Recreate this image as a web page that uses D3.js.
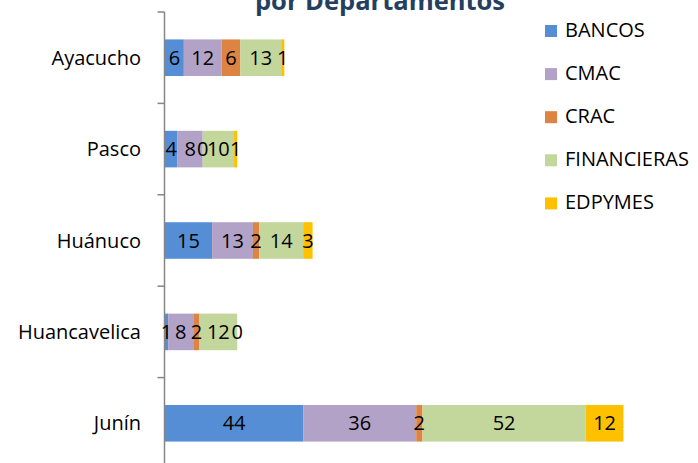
<!DOCTYPE html>
<html><head><meta charset="utf-8">
<script src="https://cdn.jsdelivr.net/npm/d3@7"></script>
<style>body{margin:0;background:#fff}svg{display:block}</style>
</head><body>
<script>
const categories = ["Ayacucho","Pasco","Huánuco","Huancavelica","Junín"];
const seriesNames = ["BANCOS","CMAC","CRAC","FINANCIERAS","EDPYMES"];
const bancos = [6,4,15,1,44];
const cmac = [12,8,13,8,36];
const crac = [6,0,2,2,2];
const financieras = [13,10,14,12,52];
const edpymes = [1,1,3,0,12];
const colors = ["#558ED5","#B3A2C7","#DD8442","#C3D69B","#FFC000"];
const title = "por Departamentos";

const W=698,H=463;
const font = "'Open Sans', sans-serif";
const fs = 20;
const svg = d3.select("body").append("svg").attr("width",W).attr("height",H);

const seriesVals=[bancos,cmac,crac,financieras,edpymes];
const rows = categories.map((c,i)=>{const r={cat:c}; seriesNames.forEach((s,j)=>r[s]=seriesVals[j][i]); return r;});
const stacked = d3.stack().keys(seriesNames)(rows);

const x0=165;
const x = d3.scaleLinear().domain([0,146]).range([x0,x0+146*3.14]);
const y = d3.scaleBand().domain(categories).range([12,469]).paddingInner(0.6).paddingOuter(0.3);

const ax = svg.append("g").attr("transform",`translate(${x0-0.5},0)`);
ax.append("line").attr("x1",0).attr("x2",0).attr("y1",12).attr("y2",469).attr("stroke","#868686").attr("stroke-width",1.5);
const tickYs = d3.range(categories.length+1).map(i=>12+i*(469-12)/categories.length);
ax.selectAll("line.t").data(tickYs).join("line").attr("class","t")
  .attr("x1",-7).attr("x2",0).attr("y1",d=>d).attr("y2",d=>d).attr("stroke","#868686").attr("stroke-width",1.5);
svg.append("g").selectAll("text").data(categories).join("text")
  .attr("x",141).attr("y",d=>y(d)+y.bandwidth()/2).attr("dy","0.35em")
  .attr("text-anchor","end").attr("font-family",font).attr("font-size",fs).attr("fill","#000").text(d=>d);

const g = svg.append("g");
stacked.forEach((s,j)=>{
  g.selectAll(null).data(s).join("rect")
   .attr("x",d=>x(d[0])).attr("width",d=>x(d[1])-x(d[0]))
   .attr("y",d=>y(d.data.cat)).attr("height",y.bandwidth())
   .attr("fill",colors[j]);
});
stacked.forEach((s,j)=>{
  g.selectAll(null).data(s).join("text")
   .attr("x",d=>(x(d[0])+x(d[1]))/2).attr("y",d=>y(d.data.cat)+y.bandwidth()/2).attr("dy","0.35em")
   .attr("text-anchor","middle").attr("font-family",font).attr("font-size",fs).attr("fill","#000")
   .text(d=>d[1]-d[0]);
});

svg.append("text").attr("x",380).attr("y",10).attr("text-anchor","middle")
  .attr("font-family",font).attr("font-weight","bold").attr("font-size",25.5).attr("fill","#243F60").text(title);

const lg = svg.append("g");
seriesNames.forEach((s,i)=>{
  const cy = 31+i*43.1;
  lg.append("rect").attr("x",545).attr("y",cy-6).attr("width",12).attr("height",12).attr("fill",colors[i]);
  lg.append("text").attr("x",565).attr("y",cy+6).attr("font-family",font).attr("font-size",fs).attr("fill","#000").text(s);
});
</script>
</body></html>
